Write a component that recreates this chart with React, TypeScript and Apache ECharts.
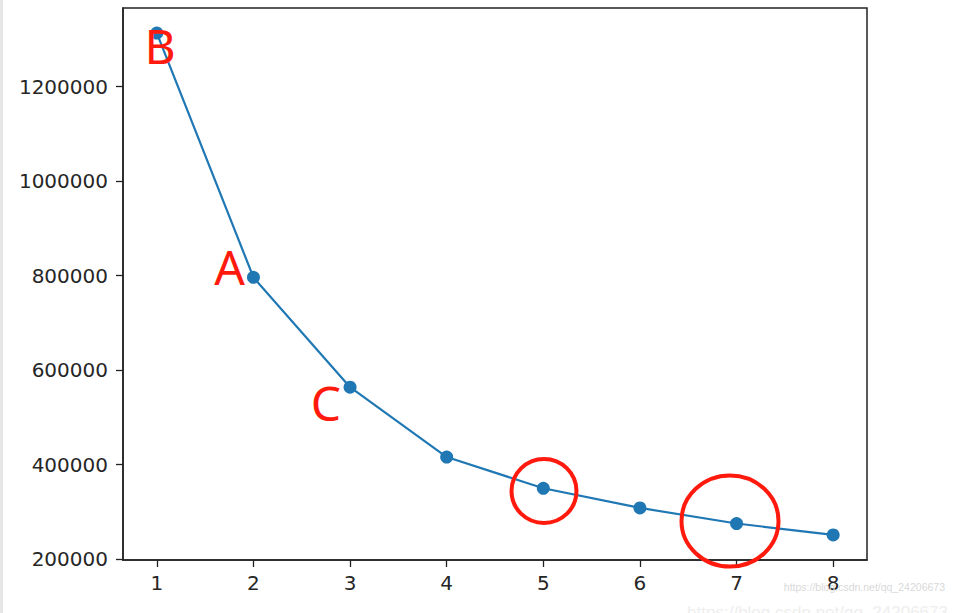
import React, { useEffect, useRef } from "react";
import * as echarts from "echarts";

const clusters = [1, 2, 3, 4, 5, 6, 7, 8];
const sse = [1313400, 796400, 564000, 416100, 350000, 308400, 275400, 251300];
const yTicks = [200000, 400000, 600000, 800000, 1000000, 1200000];
const xTicks = [1, 2, 3, 4, 5, 6, 7, 8];
const watermark = "https://blog.csdn.net/qq_24206673";

export default function App() {
  const ref = useRef<HTMLDivElement>(null);
  useEffect(() => {
    if (!ref.current) return;
    const chart = echarts.init(ref.current, null, { renderer: "svg" });
    const blue = "#1f77b4";
    const red = "#ff1a0d";
    const dark = "#222";
    const span = Math.max(...sse) - Math.min(...sse);
    chart.setOption({
      animation: false,
      backgroundColor: "#fff",
      grid: {
        left: 123,
        right: 91,
        top: 8,
        bottom: 53,
        show: true,
        borderColor: dark,
        borderWidth: 1.5,
      },
      xAxis: {
        type: "value",
        min: 0.65,
        max: 8.35,
        axisLine: { show: true, onZero: false, lineStyle: { color: dark, width: 1.5 } },
        axisTick: { show: true, length: 7, customValues: xTicks, lineStyle: { color: dark, width: 1.3 } },
        axisLabel: {
          customValues: xTicks,
          formatter: (v: number) => String(v),
          margin: 13,
          fontSize: 20,
          fontFamily: "DejaVu Sans",
          color: "#262626",
        },
        splitLine: { show: false },
      },
      yAxis: {
        type: "value",
        min: Math.min(...sse) - 0.05 * span,
        max: Math.max(...sse) + 0.05 * span,
        axisLine: { show: true, onZero: false, lineStyle: { color: dark, width: 1.5 } },
        axisTick: { show: true, length: 7, customValues: yTicks, lineStyle: { color: dark, width: 1.3 } },
        axisLabel: {
          customValues: yTicks,
          formatter: (v: number) => String(Math.round(v)),
          margin: 15,
          fontSize: 20,
          fontFamily: "DejaVu Sans",
          color: "#262626",
        },
        splitLine: { show: false },
      },
      series: [
        {
          type: "line",
          data: clusters.map((c, i) => [c, sse[i]]),
          symbol: "circle",
          symbolSize: 13,
          lineStyle: { color: blue, width: 2.2 },
          itemStyle: { color: blue },
          z: 3,
        },
      ],
      graphic: [
        { type: "rect", left: 0, top: 0, shape: { width: 3, height: 613 }, style: { fill: "#e6e6e6" }, silent: true },
        {
          type: "text",
          x: 160,
          y: 45,
          style: { text: "B", fill: red, font: "48px 'Noto Sans'", textAlign: "center", textVerticalAlign: "middle" },
          z: 10,
        },
        {
          type: "text",
          x: 229.5,
          y: 266,
          style: { text: "A", fill: red, font: "48px 'Noto Sans'", textAlign: "center", textVerticalAlign: "middle" },
          z: 10,
        },
        {
          type: "text",
          x: 326,
          y: 402,
          style: { text: "C", fill: red, font: "48px 'Noto Sans'", textAlign: "center", textVerticalAlign: "middle" },
          z: 10,
        },
        {
          type: "ellipse",
          shape: { cx: 544, cy: 491, rx: 32.5, ry: 32 },
          style: { fill: "none", stroke: red, lineWidth: 4 },
          z: 10,
        },
        {
          type: "ellipse",
          shape: { cx: 730, cy: 521, rx: 48.5, ry: 45.5 },
          style: { fill: "none", stroke: red, lineWidth: 4 },
          z: 10,
        },
        {
          type: "text",
          x: 945,
          y: 587,
          style: { text: watermark, fill: "#d9d9d9", font: "10.5px 'Liberation Sans'", textAlign: "right", textVerticalAlign: "middle" },
          z: 10,
        },
        {
          type: "text",
          x: 948,
          y: 612,
          style: { text: watermark, fill: "#eeeeee", font: "17px 'Liberation Sans'", textAlign: "right", textVerticalAlign: "middle" },
          z: 10,
        },
      ],
    });
    return () => chart.dispose();
  }, []);
  return (
    <div
      ref={ref}
      style={{ position: "fixed", left: 0, top: 0, width: 958, height: 613 }}
    />
  );
}
